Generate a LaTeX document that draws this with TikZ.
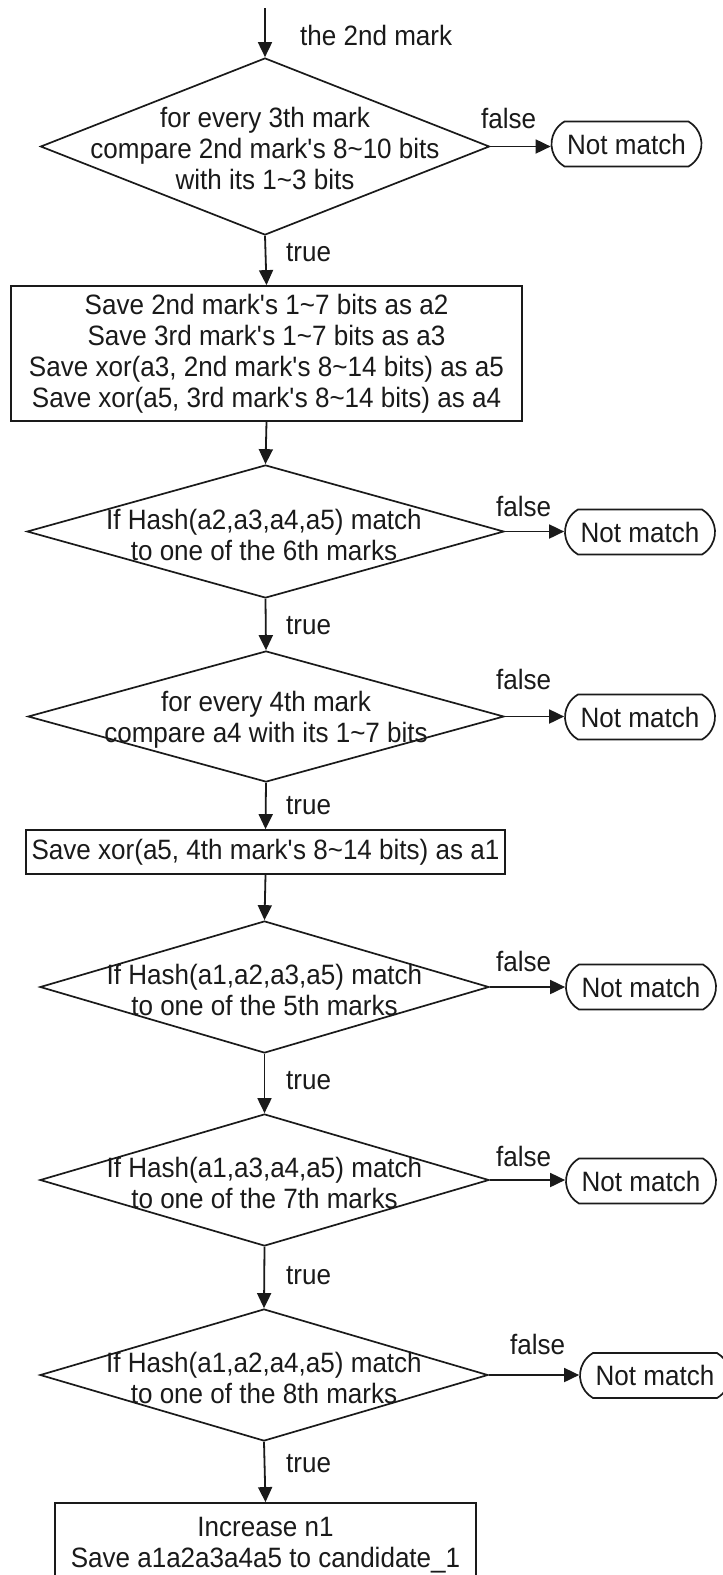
\documentclass[tikz,border=0pt]{standalone}
\usepackage{fontspec}
\setmainfont{Liberation Sans}[FakeStretch=0.93]
\usetikzlibrary{arrows.meta,shapes.geometric,shapes.misc}
\definecolor{ink}{HTML}{1A1A1A}
\newcommand{\qt}{\textquotesingle}
\begin{document}
\begin{tikzpicture}[x=1pt,y=-1pt,
  font=\fontsize{28}{31}\selectfont, text=ink,
  line/.style={draw=ink,line width=1.8pt},
  arr/.style={line,-{Triangle[length=15pt,width=14pt]}},
  decision/.style={diamond,draw=ink,line width=1.7pt,inner sep=0pt},
  process/.style={rectangle,draw=ink,line width=1.8pt,inner sep=0pt,align=center},
  terminal/.style={rounded rectangle,rounded rectangle arc length=120,draw=ink,
    line width=1.7pt,inner sep=0pt,minimum width=150pt,minimum height=45pt},
  lbl/.style={inner sep=0pt,anchor=west},
  dtext/.style={inner sep=0pt,align=center}]

\useasboundingbox (0,0) rectangle (723,1575);
\fill[white] (0,0) rectangle (723,1575);
\clip (0,0) rectangle (723,1575);

% entry
\coordinate (start) at (265,8);
\node[lbl] (entry) at (300,35) {the 2nd mark};

% first test
\node[decision,minimum width=449pt,minimum height=177pt] (d1) at (265,146.5) {};
\node[dtext] (d1t) at (265,148) {for every 3th mark\\compare 2nd mark\qt s 8\textasciitilde10 bits\\with its 1\textasciitilde3 bits};
\node[terminal] (nm1) at (626.5,144) {Not match};

\node[process,minimum width=511pt,minimum height=135pt] (b1) at (266.5,353.5)
  {Save 2nd mark\qt s 1\textasciitilde7 bits as a2\\Save 3rd mark\qt s 1\textasciitilde7 bits as a3\\Save xor(a3, 2nd mark\qt s 8\textasciitilde14 bits) as a5\\Save xor(a5, 3rd mark\qt s 8\textasciitilde14 bits) as a4};

% second test
\node[decision,minimum width=477pt,minimum height=133pt] (d2) at (265.5,531.5) {};
\node[dtext] (d2t) at (264,535) {If Hash(a2,a3,a4,a5) match\\to one of the 6th marks};
\node[terminal] (nm2) at (640,532) {Not match};

% third test
\node[decision,minimum width=476pt,minimum height=131pt] (d3) at (266,716.5) {};
\node[dtext] (d3t) at (266,720) {for every 4th mark\\compare a4 with its 1\textasciitilde7 bits};
\node[terminal] (nm3) at (640,717) {Not match};

\node[process,minimum width=479pt,minimum height=44pt] (b2) at (265.5,852)
  {Save xor(a5, 4th mark\qt s 8\textasciitilde14 bits) as a1};

% fourth test
\node[decision,minimum width=449pt,minimum height=132pt] (d4) at (264.5,987) {};
\node[dtext] (d4t) at (264.5,990) {If Hash(a1,a2,a3,a5) match\\to one of the 5th marks};
\node[terminal] (nm4) at (641,987) {Not match};

% fifth test
\node[decision,minimum width=449pt,minimum height=132pt] (d5) at (264.5,1180) {};
\node[dtext] (d5t) at (264.5,1183) {If Hash(a1,a3,a4,a5) match\\to one of the 7th marks};
\node[terminal] (nm5) at (641,1181) {Not match};

% sixth test
\node[decision,minimum width=448pt,minimum height=132pt] (d6) at (264,1375) {};
\node[dtext] (d6t) at (264,1378) {If Hash(a1,a2,a4,a5) match\\to one of the 8th marks};
\node[terminal] (nm6) at (655,1375.5) {Not match};

\node[process,minimum width=421pt,minimum height=84pt] (b3) at (265.5,1545)
  {Increase n1\\Save a1a2a3a4a5 to candidate\_1};

% main flow
\draw[arr] (start) -- (d1.north);
\draw[arr] (d1.south) -- (b1.north);
\draw[arr] (b1.south) -- (d2.north);
\draw[arr] (d2.south) -- (d3.north);
\draw[arr] (d3.south) -- (b2.north);
\draw[arr] (b2.south) -- (d4.north);
\draw[arr] (d4.south) -- (d5.north);
\draw[arr] (d5.south) -- (d6.north);
\draw[arr] (d6.south) -- (b3.north);

% rejections
\draw[arr] (d1.east) -- (d1.east -| nm1.west);
\draw[arr] (d2.east) -- (d2.east -| nm2.west);
\draw[arr] (d3.east) -- (d3.east -| nm3.west);
\draw[arr] (d4.east) -- (d4.east -| nm4.west);
\draw[arr] (d5.east) -- (d5.east -| nm5.west);
\draw[arr] (d6.east) -- (d6.east -| nm6.west);

% branch labels
\node[lbl] (f1) at (481,118) {false};
\node[lbl] (f2) at (496,506) {false};
\node[lbl] (f3) at (496,679) {false};
\node[lbl] (f4) at (496,961) {false};
\node[lbl] (f5) at (496,1156) {false};
\node[lbl] (f6) at (510,1344) {false};
\node[lbl] (t1) at (286,253) {true};
\node[lbl] (t2) at (286,626) {true};
\node[lbl] (t3) at (286,806) {true};
\node[lbl] (t4) at (286,1081) {true};
\node[lbl] (t5) at (286,1276) {true};
\node[lbl] (t6) at (286,1464) {true};
\end{tikzpicture}
\end{document}
